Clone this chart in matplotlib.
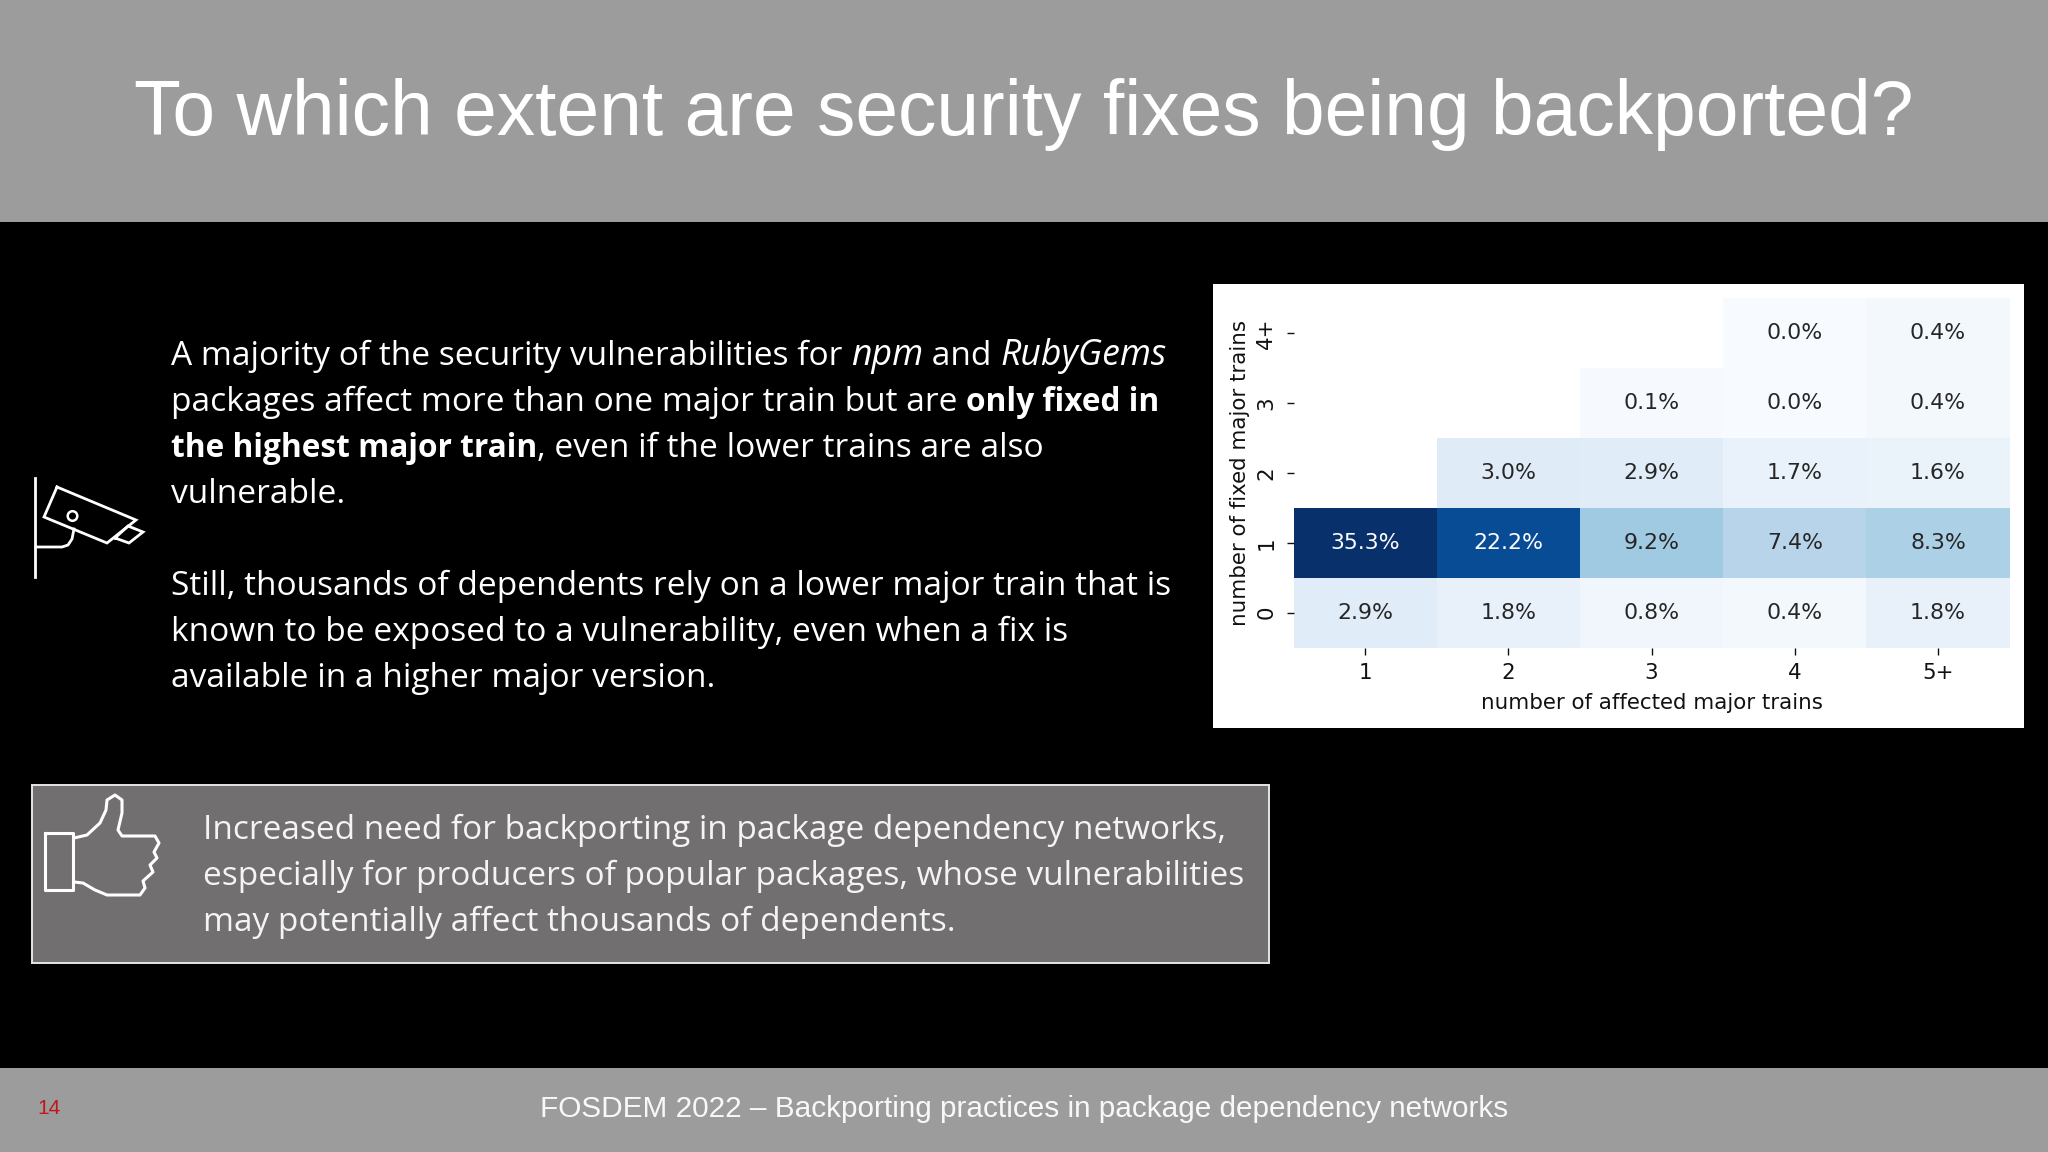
import numpy as np
import matplotlib
matplotlib.use('Agg')
import matplotlib.pyplot as plt
from matplotlib.patches import Rectangle, Circle

W, H = 2048, 1152

title = 'To which extent are security fixes being backported?'
footer = 'FOSDEM 2022 – Backporting practices in package dependency networks'
page = '14'

# text runs per line: (text, style)
body_lines = [
    [('A majority of the security vulnerabilities for ', 'n'), ('npm', 'i'), (' and ', 'n'), ('RubyGems', 'i')],
    [('packages affect more than one major train but are ', 'n'), ('only fixed in', 'b')],
    [('the highest major train', 'b'), (', even if the lower trains are also', 'n')],
    [('vulnerable.', 'n')],
    [('Still, thousands of dependents rely on a lower major train that is', 'n')],
    [('known to be exposed to a vulnerability, even when a fix is', 'n')],
    [('available in a higher major version.', 'n')],
]
body_base = [365, 411, 457, 503, 595, 641, 687]
box_lines = [
    'Increased need for backporting in package dependency networks,',
    'especially for producers of popular packages, whose vulnerabilities',
    'may potentially affect thousands of dependents.',
]
box_base = [839, 885, 931]

x_labels = ['1', '2', '3', '4', '5+']
y_labels = ['0', '1', '2', '3', '4+']
# rows from 0 fixed trains up to 4+
row_0 = [2.9, 1.8, 0.8, 0.4, 1.8]
row_1 = [35.3, 22.2, 9.2, 7.4, 8.3]
row_2 = [np.nan, 3.0, 2.9, 1.7, 1.6]
row_3 = [np.nan, np.nan, 0.1, 0.0, 0.4]
row_4 = [np.nan, np.nan, np.nan, 0.0, 0.4]

# icon outlines in screen pixels
pole_x = [34.7, 34.7]
pole_y = [478, 577]
arm_x = [36, 62, 68, 72, 74]
arm_y = [547, 547, 545, 539, 529]
cam_x = [57, 136, 107, 44, 57]
cam_y = [487, 520, 543, 517, 487]
lens_x = [115, 128, 143, 129, 115]
lens_y = [538, 526, 532, 543, 538]
cuff_x = [45, 73, 73, 45, 45]
cuff_y = [833, 833, 890, 890, 833]
hand_x = [74, 87, 100, 106, 107, 115, 122, 122, 118, 122, 155, 159, 154, 157, 150, 153, 143, 145, 140, 107, 95, 83, 74]
hand_y = [838, 835, 823, 810, 800, 795, 800, 813, 830, 836, 836, 843, 852, 858, 865, 872, 881, 888, 895, 895, 890, 883, 882]

fig = plt.figure(figsize=(W / 100, H / 100), dpi=100, facecolor='black')
bg = fig.add_axes([0, 0, 1, 1])
bg.set_xlim(0, W)
bg.set_ylim(H, 0)
bg.axis('off')

# header, footer and callout box
bg.add_patch(Rectangle((0, 0), W, 222, color='#9c9c9c', lw=0))
bg.add_patch(Rectangle((0, 1068), W, 84, color='#9c9c9c', lw=0))
bg.add_patch(Rectangle((31.5, 785), 1237, 178, facecolor='#716f6f', edgecolor='#e6e6e6', lw=1.4))
bg.add_patch(Rectangle((1213, 284), 811, 444, color='white', lw=0))

bg.text(1024, 114.5, title, family='Liberation Sans', fontsize=55.3, color='white', ha='center', va='center')
bg.text(1024, 1109, footer, family='Liberation Sans', fontsize=21.4, color='#f8f8f8', ha='center', va='center')
bg.text(37, 1109, page, family='Liberation Sans', fontsize=15, color='#c01818', ha='left', va='center')

# the slide font has narrower bold and wider italics than Open Sans, so each style gets its own size
styles = {
    'n': {'fontsize': 24.1},
    'i': {'fontsize': 25.7, 'style': 'italic'},
    'b': {'fontsize': 22.8, 'weight': 'bold'},
}
renderer = fig.canvas.get_renderer()
for runs, y in zip(body_lines, body_base):
    x = 171
    for s, st in runs:
        bg.text(x, y, s, family='Open Sans', color='white', va='baseline', **styles[st])
        # trailing spaces count in the extent only with a marker, so measure with one
        probe = bg.text(x, y, s.replace(' ', '\u00a0'), family='Open Sans', **styles[st])
        x += probe.get_window_extent(renderer).width
        probe.remove()
for s, y in zip(box_lines, box_base):
    bg.text(203, y, s, family='Open Sans', fontsize=24.0, color='#f4f4f4', va='baseline')

# icons
for xs, ys in [(pole_x, pole_y), (arm_x, arm_y), (cam_x, cam_y), (lens_x, lens_y)]:
    bg.plot(xs, ys, color='white', lw=2, solid_joinstyle='miter')
bg.add_patch(Circle((72.5, 516), 4.8, fill=False, edgecolor='white', lw=1.8))
for xs, ys in [(cuff_x, cuff_y), (hand_x, hand_y)]:
    bg.plot(xs, ys, color='white', lw=2.2, solid_joinstyle='round')

# heatmap
ax = fig.add_axes([1293.6 / W, 1 - 647.7 / H, 716 / W, 349.7 / H])
grid = np.array([row_0, row_1, row_2, row_3, row_4])
ax.imshow(grid, cmap='Blues', vmin=0, vmax=25, origin='lower', aspect='auto')
for i in range(grid.shape[0]):
    for j in range(grid.shape[1]):
        v = grid[i, j]
        if not np.isnan(v):
            ax.text(j, i, f'{v:.1f}%', ha='center', va='center', fontsize=15.8,
                    color='white' if v > 15 else '#262626')
for sp in ax.spines.values():
    sp.set_visible(False)
ax.set_xticks(range(5), x_labels)
ax.set_yticks(range(5), y_labels, rotation=90, va='center')
ax.tick_params(axis='both', length=5.2, width=1, labelsize=15.4, colors='#111111')
ax.tick_params(axis='x', pad=6)
ax.tick_params(axis='y', pad=7.2)
ax.set_xlabel('number of affected major trains', fontsize=15.4, labelpad=7, color='#111111')
ax.set_ylabel('number of fixed major trains', fontsize=15.4, labelpad=4.5, color='#111111')

fig.savefig('out.png', dpi=100, facecolor='black')
